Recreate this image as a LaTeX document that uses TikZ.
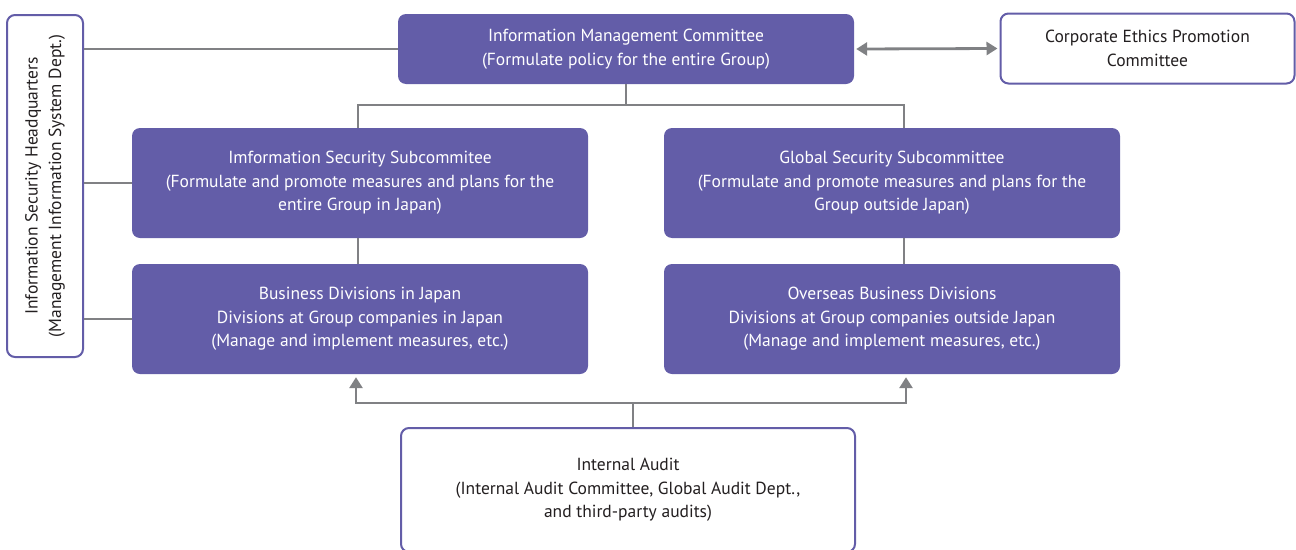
\documentclass[tikz,border=0pt]{standalone}
\usepackage{fontspec}
\setmainfont{PT Sans}
\usetikzlibrary{arrows.meta,calc}
\definecolor{pur}{RGB}{99,93,168}
\definecolor{lgray}{RGB}{128,129,132}
\definecolor{txt}{RGB}{35,31,32}
\begin{document}
\begin{tikzpicture}[x=1pt,y=-1pt,
  fbox/.style={rectangle,rounded corners=8pt,fill=pur,draw=none,text=white,align=center,inner sep=0pt,
     font=\fontsize{17.5}{23.5}\selectfont},
  wbox/.style={rectangle,rounded corners=8pt,fill=white,draw=pur,line width=2pt,text=txt,align=center,inner sep=0pt,
     font=\fontsize{17.5}{23.5}\selectfont},
  conn/.style={draw=lgray,line width=2.8pt},
  tip/.style={-{Triangle[width=13pt,length=11pt]}},
]
\useasboundingbox (0,0) rectangle (1296,549);
\clip (0,0) rectangle (1296,549);
\node[fbox,minimum width=456pt,minimum height=70pt] (top) at (626,49) {Information Management Committee\\(Formulate policy for the entire Group)};
\node[wbox,minimum width=294pt,minimum height=70pt] (eth) at (1147.5,48.5) {Corporate Ethics Promotion\\Committee};
\node[wbox,minimum width=76pt,minimum height=342pt] (hq) at (45,186) {};
\node[rotate=90,text=txt,align=center,font=\fontsize{17.5}{23.5}\selectfont] (hqt) at (hq.center) {Information Security Headquarters\\(Management Information System Dept.)};
\node[fbox,minimum width=456pt,minimum height=110pt] (iss) at (360,183) {Imformation Security Subcommitee\\(Formulate and promote measures and plans for the\\entire Group in Japan)};
\node[fbox,minimum width=456pt,minimum height=110pt] (gss) at (892,183) {Global Security Subcommittee\\(Formulate and promote measures and plans for the\\Group outside Japan)};
\node[fbox,minimum width=456pt,minimum height=110pt] (bdj) at (360,319) {Business Divisions in Japan\\Divisions at Group companies in Japan\\(Manage and implement measures, etc.)};
\node[fbox,minimum width=456pt,minimum height=110pt] (obd) at (892,319) {Overseas Business Divisions\\Divisions at Group companies outside Japan\\(Manage and implement measures, etc.)};
\node[wbox,minimum width=454pt,minimum height=124pt] (aud) at (628,490) {Internal Audit\\(Internal Audit Committee, Global Audit Dept.,\\and third-party audits)};
% connectors
\coordinate (j1) at (626,105);
\coordinate (j2) at (633,403);
\draw[conn] (top.west) -- (hq.east |- top.west);
\draw[conn] (iss.west) -- (hq.east |- iss.west);
\draw[conn] (bdj.west) -- (hq.east |- bdj.west);
\draw[conn] (top.south) -- (j1);
\draw[conn] ([xshift=-2pt]iss.north) -- ([xshift=-2pt]iss.north |- j1) -- ([xshift=12pt]gss.north |- j1) -- ([xshift=12pt]gss.north);
\draw[conn] ([xshift=-2pt]iss.south) -- ([xshift=-2pt]bdj.north);
\draw[conn] ([xshift=12pt]gss.south) -- ([xshift=12pt]obd.north);
\draw[conn,{Triangle[width=13pt,length=11pt]}-{Triangle[width=13pt,length=11pt]}] ([xshift=2pt]top.east) -- ([xshift=-2pt]eth.west);
\draw[conn] ([xshift=5pt]aud.north) -- (j2);
\draw[conn,tip] (j2) -- ([xshift=-4pt]bdj.south |- j2) -- ([xshift=-4pt,yshift=-3pt]bdj.south);
\draw[conn,tip] (j2) -- ([xshift=14pt]obd.south |- j2) -- ([xshift=14pt,yshift=-3pt]obd.south);
\end{tikzpicture}
\end{document}
